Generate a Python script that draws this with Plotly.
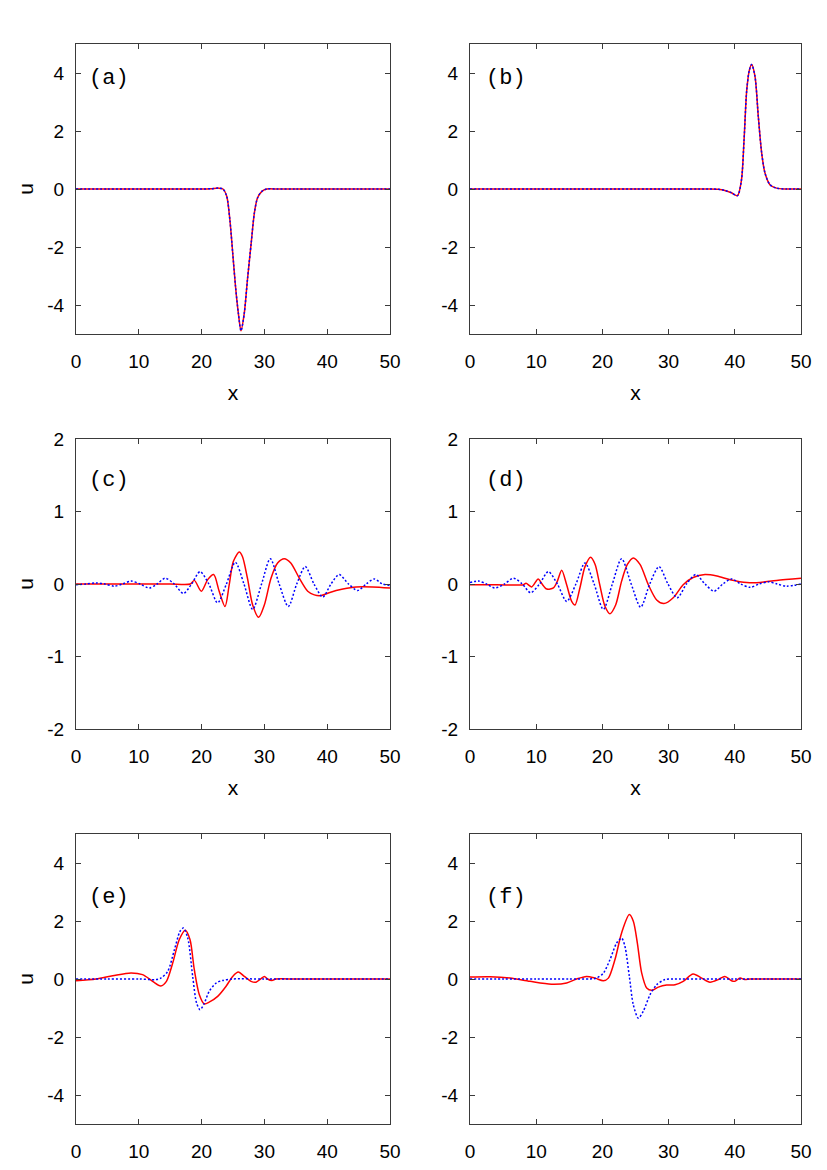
import plotly.graph_objects as go

# ---------------- data ----------------
x_ticks = [0, 10, 20, 30, 40, 50]
x_ticktext = ["0", "10", "20", "30", "40", "50"]
y_ticks_big = [-4, -2, 0, 2, 4]
y_ticktext_big = ["-4", "-2", "0", "2", "4"]
y_ticks_small = [-2, -1, 0, 1, 2]
y_ticktext_small = ["-2", "-1", "0", "1", "2"]
panel_labels = ["(a)", "(b)", "(c)", "(d)", "(e)", "(f)"]

# (a)
a_x = [0, 5, 10, 15, 20, 21.5, 22.7, 23.4, 24.0, 24.5, 24.95, 25.4, 25.85, 26.27,
       26.8, 27.3, 27.9, 28.4, 28.9, 29.6, 30.4, 32, 35, 40, 45, 50]
a_red = [0, 0, 0, 0, 0, 0.01, 0.03, 0.0, -0.25, -1.06, -2.2, -3.36, -4.28, -4.89,
         -4.28, -3.13, -1.86, -0.83, -0.31, -0.08, 0, 0, 0, 0, 0, 0]
a_blue = [0, 0, 0, 0, 0, 0.01, 0.03, 0.0, -0.25, -1.06, -2.2, -3.36, -4.28, -4.89,
          -4.28, -3.13, -1.86, -0.83, -0.31, -0.08, 0, 0, 0, 0, 0, 0]

# (b)
b_x = [0, 5, 10, 15, 20, 25, 30, 36, 37.5, 38.5, 39.5, 40.4, 41.0, 41.4, 41.8, 42.2,
       42.55, 43.05, 43.55, 44.06, 44.56, 45.3, 46.3, 47.8, 50]
b_red = [0, 0, 0, 0, 0, 0, 0, 0, -0.01, -0.05, -0.13, -0.23, 0.3, 1.7, 3.4, 4.1,
         4.29, 3.88, 2.5, 1.24, 0.55, 0.15, 0.03, 0, 0]
b_blue = [0, 0, 0, 0, 0, 0, 0, 0, -0.01, -0.05, -0.13, -0.23, 0.3, 1.7, 3.4, 4.1,
          4.29, 3.88, 2.5, 1.24, 0.55, 0.15, 0.03, 0, 0]

# (c)
c_red_x = [0, 5, 10, 15, 18.2, 18.84, 19.96, 20.97, 21.92, 22.8, 23.73, 24.4, 25.05,
           26.0, 26.5, 27.3, 28.13, 29.09, 29.99, 31.05, 32.1, 33.17, 34.2, 35.56,
           36.9, 37.95, 39.0, 40.3, 42.5, 44.6, 47.2, 50]
c_red_u = [0, 0, 0, 0, 0, 0.05, -0.10, 0.06, 0.13, -0.10, -0.31, -0.01, 0.31,
           0.44, 0.38, 0.08, -0.29, -0.46, -0.29, 0.08, 0.29, 0.35, 0.29, 0.08,
           -0.10, -0.15, -0.16, -0.12, -0.07, -0.04, -0.04, -0.055]
c_blue_x = [0, 1.6, 3.18, 4.6, 6.1, 7.4, 8.76, 10.2, 11.68, 12.9, 14.2, 15.65, 17.1,
            18.4, 19.75, 21.15, 22.55, 23.95, 25.37, 26.75, 28.13, 29.55, 30.94,
            32.35, 33.8, 35.15, 36.5, 37.9, 39.3, 40.6, 41.9, 43.4, 44.85, 46.2,
            47.5, 48.8, 50]
c_blue_u = [-0.01, 0.0, 0.015, 0, -0.03, 0, 0.04, 0, -0.055, 0, 0.08, 0, -0.13,
            0, 0.17, 0, -0.26, 0, 0.30, 0, -0.35, 0, 0.35, 0, -0.31, 0, 0.24, 0,
            -0.18, 0, 0.13, 0, -0.09, 0, 0.07, 0, -0.02]

# (d)
d_red_x = [0, 4, 8.06, 8.46, 9.3, 10.3, 10.8, 11.6, 12.6, 13.2, 13.85, 14.6, 15.36,
           15.86, 16.6, 17.37, 18.23, 18.9, 19.6, 20.4, 21.15, 22.0, 22.9, 23.77,
           24.67, 25.68, 26.94, 28.2, 29.3, 30.7, 32.2, 33.7, 35.5, 37.3, 39.3,
           41.8, 43.8, 46.3, 50]
d_red_u = [-0.01, -0.01, -0.01, 0.01, -0.04, 0.07, 0.01, -0.07, -0.055, 0.04, 0.19,
           -0.01, -0.24, -0.29, -0.055, 0.24, 0.37, 0.27, -0.01, -0.31, -0.41,
           -0.29, 0.04, 0.27, 0.36, 0.27, -0.01, -0.22, -0.27, -0.19, -0.01, 0.09,
           0.13, 0.11, 0.06, 0.02, 0.02, 0.05, 0.08]
d_blue_x = [0, 1.26, 2.5, 3.78, 5.2, 6.55, 7.9, 9.16, 10.5, 11.83, 13.2, 14.6, 16.0,
            17.37, 18.75, 20.14, 21.5, 22.9, 24.35, 25.78, 27.15, 28.55, 29.9, 31.3,
            32.7, 34.1, 35.5, 36.86, 38.2, 39.5, 40.9, 42.3, 43.7, 45.06, 46.4,
            47.8, 50]
d_blue_u = [0.02, 0.04, 0, -0.055, 0, 0.08, 0, -0.12, 0, 0.17, 0, -0.24, 0, 0.29,
            0, -0.35, 0, 0.35, 0, -0.32, 0, 0.24, 0, -0.19, 0, 0.13, 0, -0.10, 0,
            0.07, 0, -0.046, 0, 0.03, 0, -0.03, 0.0]

# (e)
e_red_x = [0, 3.2, 5.84, 8.76, 10.6, 12.2, 13.5, 14.4, 15.4, 16.45, 17.4, 18.15,
           18.84, 19.64, 20.44, 21.2, 22.56, 23.9, 24.95, 25.85, 26.8, 27.87, 28.66,
           29.46, 30.0, 30.5, 31.2, 31.85, 35, 40, 45, 50]
e_red_u = [-0.06, 0.0, 0.11, 0.21, 0.15, -0.08, -0.24, -0.08, 0.55, 1.36, 1.68,
           1.36, 0.32, -0.54, -0.86, -0.80, -0.6, -0.25, 0.09, 0.24, 0.09, -0.08,
           -0.11, 0.01, 0.09, 0.0, -0.05, 0, 0, 0, 0, 0]
e_blue_x = [0, 5, 10, 12.7, 13.5, 14.6, 15.66, 16.56, 17.1, 17.8, 18.58, 19.2, 19.75,
            20.44, 21.2, 22.3, 23.35, 24.95, 30, 35, 40, 45, 50]
e_blue_u = [0, 0, 0, -0.02, 0.03, 0.26, 1.0, 1.64, 1.76, 1.41, 0.09, -0.83, -1.06,
            -0.83, -0.43, -0.14, -0.05, 0, 0, 0, 0, 0, 0]

# (f)
f_red_x = [0, 3.0, 6.04, 9.06, 12.3, 14.6, 16.1, 17.6, 18.9, 20.14, 20.9, 21.9, 22.9,
           24.07, 24.67, 25.28, 25.93, 26.69, 27.44, 28.45, 29.7, 30.97, 32.2, 33.7,
           35.0, 36.25, 37.5, 38.5, 39.5, 40.0, 40.8, 41.5, 42.3, 45, 50]
f_red_u = [0.07, 0.08, 0.035, -0.08, -0.18, -0.14, 0, 0.09, 0.03, -0.06, 0.03, 0.67,
           1.59, 2.22, 1.99, 1.24, 0.21, -0.31, -0.39, -0.28, -0.21, -0.2, -0.08,
           0.17, 0.03, -0.11, -0.02, 0.09, -0.06, -0.08, 0.035, -0.02, 0, 0, 0]
f_blue_x = [0, 5, 10, 15, 18.1, 19.1, 20.14, 21.15, 22.15, 22.9, 23.4, 24.07, 24.67,
            25.43, 26.18, 27.2, 28.2, 29.46, 30.7, 35, 40, 45, 50]
f_blue_u = [0, 0, 0, 0, 0, 0.03, 0.2, 0.67, 1.24, 1.41, 1.13, 0.09, -0.89, -1.35,
            -1.11, -0.54, -0.2, -0.02, 0, 0, 0, 0, 0]

# ---------------- figure ----------------
OFF = 8  # default page body margin in the browser
W, H = 827 - OFF, 1170 - OFF
col_px = [(76, 390), (470, 801)]
row_px = [(44, 334), (439, 729), (834, 1124)]

TICK_FONT = dict(family="Liberation Sans, Arial, sans-serif", size=19, color="black")
LABEL_FONT = dict(family="Liberation Mono, Courier New, monospace", size=22, color="black")
FRAME = "#3a3a3a"

panels = [
    (a_x, a_red, a_x, a_blue),
    (b_x, b_red, b_x, b_blue),
    (c_red_x, c_red_u, c_blue_x, c_blue_u),
    (d_red_x, d_red_u, d_blue_x, d_blue_u),
    (e_red_x, e_red_u, e_blue_x, e_blue_u),
    (f_red_x, f_red_u, f_blue_x, f_blue_u),
]

fig = go.Figure()
layout = dict(width=W, height=H, margin=dict(l=0, r=0, t=0, b=0, autoexpand=False),
              paper_bgcolor="white", plot_bgcolor="white", showlegend=False,
              annotations=[])

for i, (rx, ry, bx, by) in enumerate(panels):
    r, c = divmod(i, 2)
    k = "" if i == 0 else str(i + 1)
    xa, ya = "x" + k, "y" + k
    fig.add_trace(go.Scatter(x=rx, y=ry, mode="lines", xaxis=xa, yaxis=ya,
                             line=dict(color="#ff0000", width=1.5, shape="spline",
                                       smoothing=0.8)))
    fig.add_trace(go.Scatter(x=bx, y=by, mode="lines", xaxis=xa, yaxis=ya,
                             line=dict(color="#0000ff", width=1.5, dash="2px,2px",
                                       shape="spline", smoothing=0.8)))
    x0, x1 = [v - OFF for v in col_px[c]]
    y0, y1 = [v - OFF for v in row_px[r]]
    small = r == 1
    common = dict(showline=True, linecolor=FRAME, linewidth=1.2, mirror="ticks",
                  ticks="inside", ticklen=5, tickcolor=FRAME, tickwidth=1,
                  showgrid=False, zeroline=False, tickfont=TICK_FONT,
                  automargin=False)
    xaxis = dict(common, domain=[x0 / W, x1 / W], anchor=ya, range=[0, 50],
                 tickmode="array", tickvals=x_ticks, ticktext=x_ticktext,
                 ticklabelstandoff=10)
    if r < 2:
        xaxis["title"] = dict(text="x", font=dict(TICK_FONT, size=21), standoff=14)
    yaxis = dict(common, domain=[1 - y1 / H, 1 - y0 / H], anchor=xa,
                 range=[-2, 2] if small else [-5, 5], tickmode="array",
                 tickvals=y_ticks_small if small else y_ticks_big,
                 ticktext=y_ticktext_small if small else y_ticktext_big,
                 ticklabelstandoff=7)
    if c == 0:
        yaxis["title"] = dict(text="u", font=dict(TICK_FONT, size=21), standoff=7)
    layout["xaxis" + k] = xaxis
    layout["yaxis" + k] = yaxis
    ly = [0.881, 0.856, 0.781][r]
    lx = [0.036, 0.042][c]
    layout["annotations"].append(dict(text=panel_labels[i], xref=xa + " domain",
                                      yref=ya + " domain", x=lx, y=ly,
                                      xanchor="left", yanchor="middle",
                                      showarrow=False, font=LABEL_FONT))

fig.update_layout(**layout)
fig.write_html("out.html")
